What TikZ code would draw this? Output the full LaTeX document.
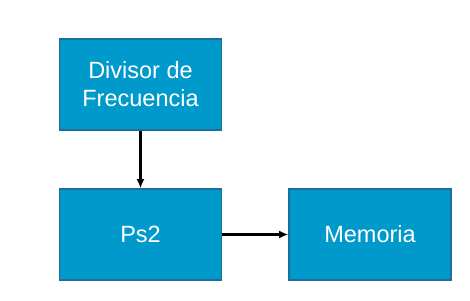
\documentclass[tikz,border=0pt]{standalone}
\usepackage{fontspec}
\setmainfont{Liberation Sans}
\usepackage{tikz}
\usetikzlibrary{arrows.meta}
\definecolor{blkfill}{RGB}{0,153,204}
\definecolor{blkline}{RGB}{30,110,155}

\begin{document}
\begin{tikzpicture}[x=1pt,y=-1pt,
	blk/.style={draw=blkline,line width=1.6pt,fill=blkfill,text=white,
		minimum width=162pt,minimum height=91pt,inner sep=0pt,align=center,
		font=\fontsize{23.5}{28}\selectfont},
	conn/.style={-{Latex[length=9pt,width=8pt]},line width=2.2pt}]
	\useasboundingbox (0,0) rectangle (470,300);
		\node [blk] (div) at (140.5,84.5) {Divisor de\\Frecuencia};
		\node [blk] (ps) at (140.5,234.5) {Ps2};
		\node [blk] (mem) at (370,234.5) {Memoria};
		\draw [conn] (div) -- (ps);
		\draw [conn] (ps) -- (mem);
	\end{tikzpicture}
\end{document}
